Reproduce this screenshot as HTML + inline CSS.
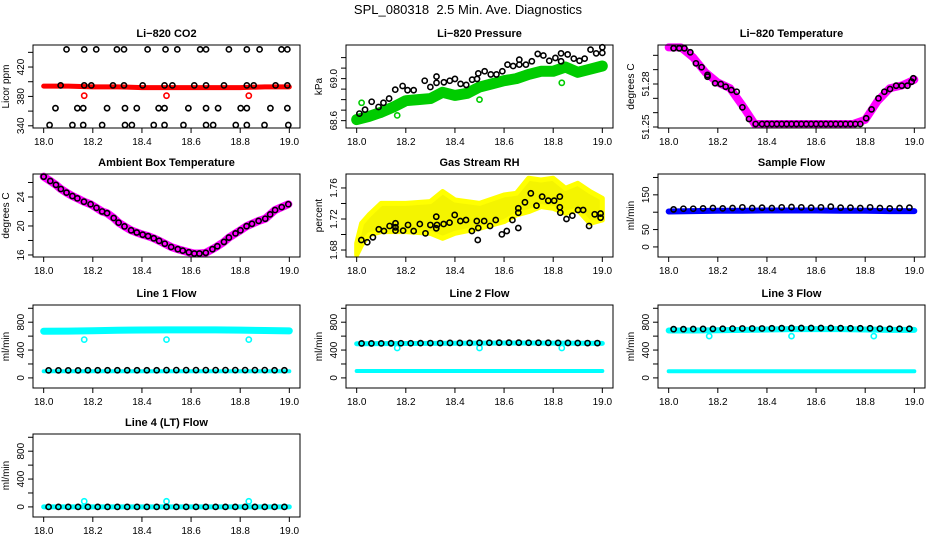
<!DOCTYPE html>
<html><head><meta charset="utf-8"><title>SPL_080318 Diagnostics</title>
<style>
html,body{margin:0;padding:0;background:#fff;}
svg{display:block;font-family:"Liberation Sans",Arial,sans-serif;}
</style></head>
<body>
<svg id="chart" width="936" height="540" viewBox="0 0 936 540" xmlns="http://www.w3.org/2000/svg">
<rect width="936" height="540" fill="#fff"/>
<text x="468" y="14" text-anchor="middle" font-size="13" style="white-space:pre">SPL_080318  2.5 Min. Ave. Diagnostics</text>
</svg>
<script>
// ---------- shared data ----------
const xTickVals = [18.0, 18.2, 18.4, 18.6, 18.8, 19.0];
const xTickLabels = ["18.0", "18.2", "18.4", "18.6", "18.8", "19.0"];
const bandT11 = [18.0, 18.1, 18.2, 18.3, 18.4, 18.5, 18.6, 18.7, 18.8, 18.9, 19.0];
const bandT21 = [18.0,18.05,18.1,18.15,18.2,18.25,18.3,18.35,18.4,18.45,18.5,18.55,18.6,18.65,18.7,18.75,18.8,18.85,18.9,18.95,19.0];
const flowT = [18.02,18.06,18.10,18.14,18.18,18.22,18.26,18.30,18.34,18.38,18.42,18.46,18.50,18.54,18.58,18.62,18.66,18.70,18.74,18.78,18.82,18.86,18.90,18.94,18.98];
const outT = [18.165, 18.5, 18.835];

// CO2
const co2X = [18.093,18.165,18.214,18.298,18.327,18.423,18.496,18.544,18.637,18.661,18.754,18.827,18.879,18.968,18.992,
 18.069,18.165,18.194,18.282,18.327,18.403,18.492,18.524,18.613,18.661,18.734,18.827,18.855,18.944,18.992,
 18.048,18.137,18.161,18.258,18.331,18.379,18.468,18.492,18.589,18.661,18.710,18.802,18.827,18.923,18.992,
 18.024,18.117,18.161,18.238,18.331,18.359,18.448,18.492,18.569,18.661,18.690,18.782,18.827,18.899,18.996];
const co2Y = [444,444,444,444,444,444,444,444,444,444,444,444,444,444,444,
 395,395,395,395,395,395,395,395,395,395,395,395,395,395,395,
 364,364,364,364,364,364,364,364,364,364,364,364,364,364,364,
 341,341,341,341,341,341,341,341,341,341,341,341,341,341,341];
const co2Red = [394,394,393,393,392,392,392,392,392,393,393];
const co2RedOut = [381,381,381];

// Pressure
const presX = [18.011,18.034,18.061,18.089,18.109,18.132,18.157,18.187,18.207,18.232,18.277,18.30,18.325,18.325,18.355,18.379,18.40,18.423,18.446,18.47,18.49,18.495,18.521,18.546,18.569,18.593,18.614,18.637,18.662,18.662,18.689,18.713,18.737,18.76,18.784,18.809,18.832,18.832,18.859,18.884,18.907,18.928,18.952,18.975,19.0,19.0];
const presY = [68.667,68.705,68.78,68.73,68.77,68.81,68.895,68.93,68.89,68.89,68.98,68.92,69.02,68.96,68.965,68.98,68.997,68.95,68.94,68.99,68.997,69.05,69.07,69.04,69.04,69.07,69.133,69.12,69.18,69.133,69.133,69.165,69.235,69.22,69.17,69.197,69.24,69.165,69.23,69.19,69.17,69.19,69.276,69.24,69.298,69.245];
const presGreen = [68.61,68.64,68.68,68.73,68.79,68.80,68.81,68.87,68.84,68.86,68.92,68.95,68.98,69.0,69.04,69.07,69.07,69.11,69.06,69.09,69.12];
const presGreenOutX = [18.02,18.165,18.5,18.835];
const presGreenOutY = [68.77,68.65,68.80,68.96];

// Li-820 temperature
const ltX = [18.02,18.043,18.064,18.088,18.111,18.134,18.158,18.158,18.189,18.212,18.232,18.255,18.277,18.30,18.327,18.354,
 18.38,18.40,18.42,18.44,18.46,18.48,18.50,18.52,18.54,18.56,18.58,18.60,18.62,18.64,18.66,18.68,18.70,18.72,18.74,18.76,18.78,
 18.804,18.826,18.854,18.878,18.901,18.926,18.949,18.972,18.989,18.996];
const ltY = [51.3049,51.3049,51.3049,51.3021,51.2944,51.2917,51.2863,51.2851,51.2805,51.2800,51.2781,51.2758,51.2746,51.2637,51.2556,51.2521,
 51.2521,51.2521,51.2521,51.2521,51.2521,51.2521,51.2521,51.2521,51.2521,51.2521,51.2521,51.2521,51.2521,51.2521,51.2521,51.2521,51.2521,51.2521,51.2521,51.2521,51.2521,
 51.2561,51.2623,51.2700,51.2746,51.2765,51.2788,51.2788,51.2788,51.2816,51.2840];
const ltMag = [51.3055,51.3055,51.2985,51.2880,51.2810,51.2770,51.2650,51.2521,51.2521,51.2521,51.2521,51.2521,51.2521,51.2521,51.2521,51.2521,51.2550,51.2680,51.2770,51.2790,51.2830];

// Ambient box temperature
const ambX = [18.0,18.027,18.05,18.07,18.093,18.117,18.137,18.164,18.191,18.215,18.238,18.258,18.285,18.305,18.329,18.356,18.379,18.403,18.425,18.448,18.47,18.493,18.519,18.546,18.566,18.591,18.613,18.634,18.66,18.687,18.707,18.734,18.754,18.781,18.801,18.826,18.848,18.875,18.902,18.922,18.942,18.969,18.996];
const ambY = [26.8,26.2,25.67,25.1,24.6,24.13,23.81,23.35,23.0,22.5,22.0,21.77,21.1,20.46,19.94,19.4,19.1,18.8,18.6,18.3,17.95,17.55,17.1,16.8,16.6,16.37,16.2,16.2,16.3,16.8,17.2,17.8,18.4,18.98,19.4,19.97,20.3,20.7,21.0,21.6,22.2,22.6,23.0];

// Gas stream RH
const rhX = [18.019,18.043,18.066,18.09,18.111,18.134,18.158,18.158,18.158,18.189,18.209,18.232,18.257,18.28,18.30,18.324,18.324,18.327,18.354,18.378,18.399,18.422,18.445,18.469,18.489,18.493,18.495,18.519,18.543,18.566,18.591,18.611,18.634,18.658,18.658,18.658,18.685,18.709,18.732,18.755,18.78,18.804,18.827,18.827,18.829,18.854,18.878,18.901,18.922,18.946,18.969,18.993,18.993];
const rhY = [1.6929,1.690,1.6964,1.7067,1.7045,1.711,1.705,1.7144,1.7093,1.705,1.7123,1.7045,1.7135,1.7015,1.7123,1.723,1.708,1.7123,1.7135,1.7153,1.7252,1.7174,1.7187,1.7045,1.7174,1.6929,1.7084,1.7174,1.711,1.7187,1.7002,1.7045,1.7187,1.7338,1.7281,1.7084,1.7415,1.7531,1.7372,1.7488,1.7436,1.7436,1.7488,1.7351,1.7281,1.72,1.7243,1.7316,1.7316,1.711,1.726,1.727,1.7217];
const rhBandT = [18.0,18.02,18.05,18.1,18.2,18.3,18.35,18.4,18.5,18.6,18.65,18.7,18.75,18.8,18.85,18.9,18.95,19.0];
const rhUpper = [1.6886,1.7143,1.7252,1.7402,1.7402,1.7424,1.7553,1.7445,1.7402,1.7510,1.7531,1.7725,1.7703,1.7725,1.7595,1.7660,1.7553,1.7467];
const rhLower = [1.6736,1.6865,1.6994,1.7037,1.7037,1.7015,1.6951,1.7015,1.7080,1.7166,1.7252,1.7295,1.7359,1.7338,1.7273,1.7316,1.7144,1.7187];

// Sample flow
const sfBlue = [102,103,104,104,105,105,105,104,104,103,103];
const sfBlack = [108,110,110,111,112,111,112,114,112,113,112,114,115,114,113,114,116,113,113,112,114,112,111,112,113];

// Line flows
const l1Hi = [670,672,678,684,688,690,690,690,686,680,676];
const l1Lo = [95,95,95,95,95,95,95,95,95,95,95];
const l1Black = [108,108,108,108,110,110,110,110,110,110,110,110,112,112,112,112,112,112,112,112,112,112,112,110,110];
const l1Out = [550,550,550];
const l2Hi = [490,492,494,495,497,500,502,502,500,498,496];
const l2Lo = [100,100,100,100,100,100,100,100,100,100,100];
const l2Black = [495,495,496,497,498,498,499,500,500,502,502,503,505,505,506,506,506,505,505,504,503,502,501,500,500];
const l2Out = [430,430,430];
const l3Hi = [680,680,685,690,695,700,700,700,695,690,690];
const l3Lo = [95,95,95,95,95,95,95,95,95,95,95];
const l3Black = [700,700,702,703,704,706,708,710,710,710,712,714,716,716,716,716,716,714,712,712,712,708,706,706,706];
const l3Out = [600,600,600];
const l4Band = [0,0,0,0,0,0,0,0,0,0,0];
const l4Black = [0,0,0,0,0,0,0,0,0,0,0,0,0,0,0,0,0,0,0,0,0,0,0,0,0];
const l4Out = [80,80,80];

const flowTicks = [0,200,400,600,800,1000];
const flowLabels = [0,400,800];

// ---------- drawing ----------
const NS = "http://www.w3.org/2000/svg";
const svg = document.getElementById("chart");
const colLeft = [33, 346, 658];
const rowTop = [45, 174, 305, 434];
const PW = 267, PH = 83;

function el(tag, attrs, parent) {
  const e = document.createElementNS(NS, tag);
  for (const k in attrs) e.setAttribute(k, attrs[k]);
  parent.appendChild(e);
  return e;
}

function makePanel(name, title, ylab, col, row, ymin, ymax, yticks, ylabels, ylabelText) {
  const L = colLeft[col], T = rowTop[row];
  const g = el("g", {}, svg);
  
  
  const sx = t => L + PW * (0.04 + 0.92 * (t - 18));
  const sy = v => T + PH - (v - ymin) / (ymax - ymin) * PH;
  const tt = el("text", {x: L + PW / 2, y: T - 8, "text-anchor": "middle", "font-size": 11, "font-weight": "bold"}, g);
  tt.textContent = title;
  
  
  const plot = el("g", {}, g);
  
  
  const xa = el("g", {}, g);
  
  
  xTickVals.forEach((v, i) => {
    const x = sx(v);
    el("line", {x1: x, x2: x, y1: T + PH, y2: T + PH + 5, stroke: "#000"}, xa);
    const t = el("text", {x: x, y: T + PH + 17, "text-anchor": "middle", "font-size": 10}, xa);
    t.textContent = xTickLabels[i];
    
    
  });
  const ya = el("g", {}, g);
  
  
  yticks.forEach(v => {
    const y = sy(v);
    el("line", {x1: L - 5, x2: L, y1: y, y2: y, stroke: "#000"}, ya);
  });
  ylabels.forEach((v, i) => {
    const y = sy(v);
    const t = el("text", {x: L - 9, y: y, "text-anchor": "middle", "font-size": 10, transform: `rotate(-90 ${L - 9} ${y})`}, ya);
    t.textContent = ylabelText ? ylabelText[i] : String(v);
    
    
  });
  const yt = el("text", {x: L - 24, y: T + PH / 2, "text-anchor": "middle", "font-size": 10, transform: `rotate(-90 ${L - 24} ${T + PH / 2})`}, g);
  yt.textContent = ylab;
  
  
  const frame = el("rect", {x: L, y: T, width: PW, height: PH, fill: "none", stroke: "#000"}, g);
  
  
  return {plot, sx, sy};
}

function band(p, ts, vs, color, w, nm) {
  const pts = ts.map((t, i) => p.sx(t) + "," + p.sy(vs[i])).join(" ");
  const e = el("polyline", {points: pts, fill: "none", stroke: color, "stroke-width": w, "stroke-linejoin": "round", "stroke-linecap": "round"}, p.plot);
  
  
}
function points(p, ts, vs, color, nm) {
  ts.forEach((t, i) => {
    const c = el("circle", {cx: p.sx(t), cy: p.sy(vs[i]), r: 2.6, fill: "none", stroke: color, "stroke-width": 1.6}, p.plot);
    
    
  });
}

let p = makePanel("panel-co2", "Li\u2212820 CO2", "Licor ppm", 0, 0, 337, 450, [340,360,380,400,420,440], [340,380,420]);
band(p, bandT11, co2Red, "#ff0000", 5, "co2-band");
points(p, outT, co2RedOut, "#ff0000", "co2-outlier");
points(p, co2X, co2Y, "#000", "co2-point");

p = makePanel("panel-pressure", "Li\u2212820 Pressure", "kPa", 1, 0, 68.53, 69.32, [68.6,68.7,68.8,68.9,69.0,69.1,69.2], [68.6,69.0], ["68.6","69.0"]);
band(p, bandT21, presGreen, "#00cc00", 11, "pressure-band");
points(p, presGreenOutX, presGreenOutY, "#00cc00", "pressure-outlier");
points(p, presX, presY, "#000", "pressure-point");

p = makePanel("panel-li820-temp", "Li\u2212820 Temperature", "degrees C", 2, 0, 51.2493, 51.3072, [51.25,51.26,51.27,51.28,51.29,51.30], [51.25,51.28], ["51.25","51.28"]);
band(p, bandT21, ltMag, "#ff00ff", 8, "li820-temp-band");
points(p, ltX, ltY, "#000", "li820-temp-point");

p = makePanel("panel-ambient-temp", "Ambient Box Temperature", "degrees C", 0, 1, 15.72, 27.17, [16,18,20,22,24,26], [16,20,24]);
band(p, ambX, ambY, "#ff00ff", 8, "ambient-temp-band");
points(p, ambX, ambY, "#000", "ambient-temp-point");

p = makePanel("panel-gas-rh", "Gas Stream RH", "percent", 1, 1, 1.671, 1.778, [1.68,1.70,1.72,1.74,1.76], [1.68,1.72,1.76], ["1.68","1.72","1.76"]);
{
  const up = rhBandT.map((t, i) => p.sx(t) + "," + p.sy(rhUpper[i]));
  const lo = rhBandT.map((t, i) => p.sx(t) + "," + p.sy(rhLower[i])).reverse();
  const poly = el("polygon", {points: up.concat(lo).join(" "), fill: "#f4f400", stroke: "#ffff00", "stroke-width": 5, "stroke-linejoin": "round"}, p.plot);
  
  
}
points(p, rhX, rhY, "#000", "rh-point");

p = makePanel("panel-sample-flow", "Sample Flow", "ml/min", 2, 1, -29, 210, [0,50,100,150,200], [0,50,150]);
band(p, bandT11, sfBlue, "#0000ff", 6, "sample-flow-band");
points(p, flowT, sfBlack, "#000", "sample-flow-point");

p = makePanel("panel-line1-flow", "Line 1 Flow", "ml/min", 0, 2, -145, 1047, flowTicks, flowLabels);
band(p, bandT11, l1Hi, "#00ffff", 7, "line1-high-band");
band(p, bandT11, l1Lo, "#00ffff", 4, "line1-low-band");
points(p, outT, l1Out, "#00ffff", "line1-outlier");
points(p, flowT, l1Black, "#000", "line1-point");

p = makePanel("panel-line2-flow", "Line 2 Flow", "ml/min", 1, 2, -145, 1047, flowTicks, flowLabels);
band(p, bandT11, l2Hi, "#00ffff", 5, "line2-high-band");
band(p, bandT11, l2Lo, "#00ffff", 4, "line2-low-band");
points(p, outT, l2Out, "#00ffff", "line2-outlier");
points(p, flowT, l2Black, "#000", "line2-point");

p = makePanel("panel-line3-flow", "Line 3 Flow", "ml/min", 2, 2, -145, 1047, flowTicks, flowLabels);
band(p, bandT11, l3Hi, "#00ffff", 6, "line3-high-band");
band(p, bandT11, l3Lo, "#00ffff", 4, "line3-low-band");
points(p, outT, l3Out, "#00ffff", "line3-outlier");
points(p, flowT, l3Black, "#000", "line3-point");

p = makePanel("panel-line4-flow", "Line 4 (LT) Flow", "ml/min", 0, 3, -145, 1047, flowTicks, flowLabels);
band(p, bandT11, l4Band, "#00ffff", 5, "line4-band");
points(p, outT, l4Out, "#00ffff", "line4-outlier");
points(p, flowT, l4Black, "#000", "line4-point");
</script>
</body></html>
